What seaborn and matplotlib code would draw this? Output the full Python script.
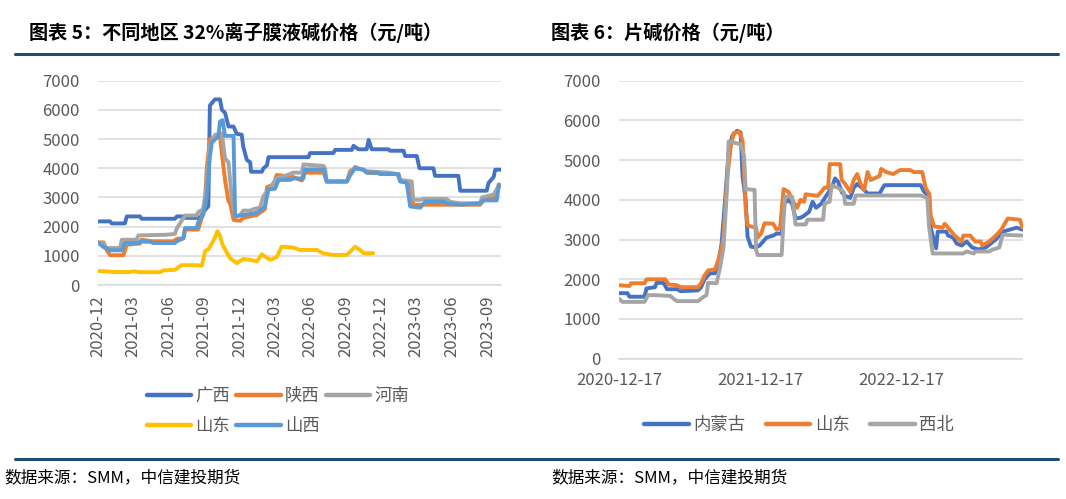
import matplotlib
matplotlib.use("Agg")
import matplotlib.pyplot as plt
import matplotlib.dates as mdates
from matplotlib.lines import Line2D
import pandas as pd
import seaborn as sns

# ---------------- 图表5: 32%离子膜液碱 (元/吨) ----------------
gx_date = ["2020-12-01", "2021-01-02", "2021-01-06", "2021-02-09", "2021-02-14", "2021-03-20", "2021-03-24",
           "2021-06-18", "2021-06-23", "2021-07-10", "2021-07-14", "2021-08-22", "2021-08-30", "2021-09-12",
           "2021-09-16", "2021-09-29", "2021-10-12", "2021-10-17", "2021-10-25", "2021-11-03", "2021-11-16",
           "2021-11-24", "2021-12-07", "2021-12-11", "2021-12-20", "2021-12-29", "2021-12-31", "2022-01-28",
           "2022-02-01", "2022-02-10", "2022-02-14", "2022-05-28", "2022-06-01", "2022-07-31", "2022-08-05",
           "2022-09-17", "2022-09-21", "2022-10-04", "2022-10-25", "2022-10-30", "2022-11-07", "2022-12-20",
           "2022-12-24", "2023-01-28", "2023-02-01", "2023-03-03", "2023-03-10", "2023-04-15", "2023-04-19",
           "2023-06-18", "2023-06-23", "2023-08-30", "2023-09-04", "2023-09-17", "2023-09-21", "2023-10-06"]
gx_price = [2180, 2180, 2110, 2110, 2350, 2350, 2270,
            2270, 2350, 2350, 2300, 2300, 2500, 2700,
            6150, 6360, 6360, 6000, 5900, 5430, 5430,
            5180, 5150, 4740, 4290, 4200, 3880, 3880,
            4000, 4100, 4380, 4380, 4520, 4520, 4630,
            4630, 4770, 4650, 4650, 4970, 4650, 4650,
            4600, 4600, 4420, 4420, 4000, 4000, 3740,
            3740, 3230, 3230, 3500, 3700, 3950, 3950]

sx_date = ["2020-12-01", "2020-12-16", "2020-12-24", "2021-01-02", "2021-02-05", "2021-02-14", "2021-03-20",
           "2021-03-24", "2021-04-20", "2021-06-14", "2021-06-23", "2021-07-10", "2021-07-14", "2021-08-17",
           "2021-08-26", "2021-09-04", "2021-09-08", "2021-09-16", "2021-10-12", "2021-10-17", "2021-10-25",
           "2021-11-03", "2021-11-07", "2021-11-16", "2021-12-03", "2021-12-11", "2022-01-15", "2022-02-05",
           "2022-02-10", "2022-02-27", "2022-03-07", "2022-04-19", "2022-05-11", "2022-05-15", "2022-07-06",
           "2022-07-14", "2022-09-04", "2022-09-12", "2022-09-25", "2022-10-17", "2022-10-25", "2023-01-15",
           "2023-01-19", "2023-02-14", "2023-02-22", "2023-08-13", "2023-08-22", "2023-09-25", "2023-09-30",
           "2023-10-06"]
sx_price = [1460, 1460, 1200, 1020, 1020, 1380, 1420,
            1550, 1500, 1500, 1580, 1600, 1900, 1900,
            2300, 3000, 4000, 5000, 5100, 4500, 3600,
            2860, 2800, 2230, 2200, 2300, 2400, 2600,
            3350, 3450, 3770, 3700, 3580, 3850, 3850,
            3550, 3550, 3900, 4000, 3950, 3850, 3800,
            3560, 3500, 2750, 2750, 2900, 3000, 3450,
            3400]

hn_date = ["2020-12-01", "2020-12-16", "2020-12-24", "2021-01-28", "2021-02-01", "2021-03-11", "2021-03-16",
           "2021-05-24", "2021-06-18", "2021-06-23", "2021-07-14", "2021-08-13", "2021-08-17", "2021-08-30",
           "2021-09-08", "2021-09-16", "2021-09-29", "2021-10-17", "2021-10-25", "2021-11-03", "2021-11-11",
           "2021-11-20", "2021-12-03", "2021-12-11", "2021-12-29", "2022-01-06", "2022-01-23", "2022-02-01",
           "2022-02-10", "2022-02-27", "2022-03-07", "2022-03-24", "2022-04-19", "2022-05-11", "2022-05-15",
           "2022-07-06", "2022-07-10", "2022-07-14", "2022-09-04", "2022-09-12", "2022-09-25", "2022-10-04",
           "2022-10-25", "2022-12-20", "2023-01-11", "2023-01-19", "2023-02-18", "2023-02-22", "2023-03-12",
           "2023-03-20", "2023-05-19", "2023-05-28", "2023-06-23", "2023-08-13", "2023-08-18", "2023-09-17",
           "2023-09-30", "2023-10-06"]
hn_price = [1460, 1400, 1270, 1270, 1550, 1550, 1700,
            1720, 1750, 1950, 2380, 2380, 2500, 2600,
            3500, 4800, 5140, 5200, 4340, 4200, 3000,
            2350, 2400, 2550, 2550, 2600, 2650, 3050,
            3200, 3500, 3650, 3720, 3850, 3850, 4130,
            4080, 3980, 3550, 3550, 3800, 4050, 4000,
            3900, 3850, 3800, 3600, 3550, 2920, 2920,
            2950, 2950, 2850, 2800, 2800, 3000, 3100,
            3400, 3400]

sd_date = ["2020-12-01", "2021-01-02", "2021-01-06", "2021-02-22", "2021-03-03", "2021-03-20", "2021-05-11",
           "2021-05-19", "2021-06-18", "2021-07-05", "2021-08-13", "2021-08-26", "2021-09-04", "2021-09-12",
           "2021-09-21", "2021-09-29", "2021-10-05", "2021-10-11", "2021-10-19", "2021-11-07", "2021-11-24",
           "2021-12-11", "2021-12-29", "2022-01-15", "2022-01-28", "2022-02-18", "2022-03-07", "2022-03-20",
           "2022-04-19", "2022-05-06", "2022-06-18", "2022-07-06", "2022-07-31", "2022-09-04", "2022-09-25",
           "2022-10-08", "2022-10-17", "2022-11-11"]
sd_price = [480, 460, 445, 445, 470, 440, 440,
            500, 520, 680, 680, 660, 1170, 1220,
            1420, 1620, 1840, 1720, 1370, 920, 750,
            890, 860, 810, 1050, 860, 950, 1310,
            1280, 1200, 1200, 1080, 1030, 1030, 1310,
            1200, 1090, 1090]

shx_date = ["2020-12-01", "2020-12-16", "2021-01-02", "2021-02-01", "2021-02-09", "2021-03-16", "2021-03-20",
            "2021-04-15", "2021-04-23", "2021-06-18", "2021-06-23", "2021-07-10", "2021-07-14", "2021-08-13",
            "2021-08-17", "2021-08-30", "2021-09-08", "2021-09-16", "2021-09-21", "2021-10-08", "2021-10-12",
            "2021-10-19", "2021-10-25", "2021-11-16", "2021-11-20", "2021-12-11", "2022-01-06", "2022-01-19",
            "2022-02-05", "2022-02-14", "2022-03-03", "2022-03-12", "2022-04-11", "2022-04-19", "2022-05-15",
            "2022-05-19", "2022-07-06", "2022-07-14", "2022-09-04", "2022-09-12", "2022-09-25", "2022-10-17",
            "2022-10-25", "2022-11-20", "2022-11-29", "2023-01-15", "2023-01-19", "2023-02-05", "2023-02-14",
            "2023-03-12", "2023-03-25", "2023-05-11", "2023-05-19", "2023-06-23", "2023-08-13", "2023-08-22",
            "2023-09-25", "2023-09-30", "2023-10-06"]
shx_price = [1460, 1300, 1190, 1190, 1440, 1440, 1490,
             1480, 1440, 1440, 1500, 1600, 1950, 1950,
             2150, 2400, 3000, 4400, 4880, 5100, 5600,
             5650, 5110, 5110, 2350, 2400, 2450, 2500,
             2700, 3280, 3300, 3600, 3600, 3650, 3650,
             3960, 3960, 3540, 3540, 3750, 4000, 3950,
             3850, 3850, 3800, 3800, 3550, 3500, 2690,
             2650, 2860, 2860, 2800, 2750, 2800, 2900,
             2900, 3400, 3380]

left_regions = ["广西", "陕西", "河南", "山东", "山西"]
left_colors = ["#4472C4", "#ED7D31", "#A5A5A5", "#FFC000", "#5B9BD5"]
left_ticks = pd.date_range("2020-12-01", "2023-09-01", freq="3MS")

# ---------------- 图表6: 片碱 (元/吨) ----------------
nmg_date = ["2020-12-17", "2021-01-08", "2021-01-13", "2021-02-21", "2021-02-26", "2021-03-20", "2021-03-24",
            "2021-04-11", "2021-04-20", "2021-05-16", "2021-05-25", "2021-07-09", "2021-07-17", "2021-07-26",
            "2021-08-09", "2021-08-22", "2021-08-31", "2021-09-08", "2021-09-17", "2021-09-26", "2021-10-05",
            "2021-10-18", "2021-10-27", "2021-11-01", "2021-11-09", "2021-11-14", "2021-11-23", "2021-12-06",
            "2021-12-15", "2021-12-24", "2022-01-02", "2022-01-19", "2022-01-28", "2022-02-10", "2022-02-15",
            "2022-02-28", "2022-03-09", "2022-03-18", "2022-03-31", "2022-04-09", "2022-04-22", "2022-05-01",
            "2022-05-10", "2022-05-23", "2022-06-05", "2022-06-19", "2022-06-28", "2022-07-06", "2022-07-15",
            "2022-07-24", "2022-08-06", "2022-08-15", "2022-08-24", "2022-09-06", "2022-09-20", "2022-10-21",
            "2022-10-29", "2022-11-03", "2023-02-04", "2023-02-13", "2023-02-26", "2023-03-02", "2023-03-16",
            "2023-03-20", "2023-04-11", "2023-04-16", "2023-04-29", "2023-05-08", "2023-05-21", "2023-06-03",
            "2023-06-17", "2023-07-04", "2023-07-22", "2023-08-04", "2023-08-17", "2023-09-04", "2023-09-22",
            "2023-10-10", "2023-10-25"]
nmg_price = [1650, 1650, 1560, 1560, 1770, 1800, 1910,
             1910, 1750, 1750, 1700, 1720, 1800, 2000,
             2150, 2150, 2450, 2900, 4000, 5200, 5600,
             5740, 5700, 4600, 4000, 3070, 2820, 2800,
             2850, 2950, 3050, 3100, 3150, 3150, 3900,
             4000, 3900, 3530, 3550, 3600, 3700, 3950,
             3800, 3900, 4100, 4300, 4540, 4450, 4200,
             4100, 4050, 4300, 4400, 4300, 4160, 4160,
             4300, 4370, 4370, 4200, 4100, 3300, 2780,
             3200, 3200, 3100, 3050, 2900, 2850, 2950,
             2800, 2750, 2800, 2900, 3000, 3200, 3250,
             3300, 3250]

sdp_date = ["2020-12-17", "2021-01-13", "2021-01-17", "2021-02-21", "2021-02-26", "2021-04-15", "2021-04-24",
            "2021-05-16", "2021-05-25", "2021-07-09", "2021-07-17", "2021-07-26", "2021-08-04", "2021-08-22",
            "2021-08-31", "2021-09-08", "2021-09-13", "2021-09-22", "2021-10-01", "2021-10-09", "2021-10-23",
            "2021-11-01", "2021-11-05", "2021-11-09", "2021-11-14", "2021-12-06", "2021-12-10", "2021-12-19",
            "2021-12-28", "2022-01-19", "2022-01-28", "2022-02-06", "2022-02-15", "2022-02-28", "2022-03-09",
            "2022-03-22", "2022-03-31", "2022-04-09", "2022-04-13", "2022-05-14", "2022-05-23", "2022-06-01",
            "2022-06-10", "2022-06-14", "2022-07-11", "2022-07-15", "2022-07-24", "2022-08-06", "2022-08-15",
            "2022-08-24", "2022-09-02", "2022-09-11", "2022-09-20", "2022-09-28", "2022-10-21", "2022-10-25",
            "2022-11-07", "2022-11-25", "2022-12-04", "2022-12-13", "2023-01-08", "2023-01-17", "2023-02-08",
            "2023-02-17", "2023-02-26", "2023-03-02", "2023-03-11", "2023-04-02", "2023-04-07", "2023-04-20",
            "2023-05-03", "2023-05-21", "2023-05-25", "2023-06-12", "2023-06-25", "2023-07-09", "2023-07-13",
            "2023-07-31", "2023-08-17", "2023-08-31", "2023-09-17", "2023-10-18", "2023-10-25"]
sdp_price = [1850, 1830, 1900, 1900, 2000, 2000, 1870,
             1850, 1800, 1800, 1900, 2100, 2220, 2250,
             2500, 2800, 3100, 4500, 5300, 5680, 5720,
             5500, 4700, 3800, 3350, 3300, 3050, 3150,
             3410, 3400, 3250, 3300, 4270, 4200, 4000,
             3800, 4000, 3950, 4140, 4100, 4200, 4310,
             4300, 4900, 4900, 4500, 4400, 4200, 4500,
             4650, 4400, 4250, 4700, 4500, 4600, 4780,
             4700, 4650, 4700, 4750, 4750, 4700, 4700,
             4300, 4150, 3600, 3330, 3300, 3400, 3250,
             3100, 2950, 3100, 3100, 2950, 2950, 2850,
             2950, 3100, 3250, 3530, 3500, 3300]

xb_date = ["2020-12-17", "2020-12-26", "2021-02-21", "2021-03-02", "2021-03-20", "2021-04-29", "2021-05-08",
           "2021-05-16", "2021-07-09", "2021-07-22", "2021-07-31", "2021-08-04", "2021-08-26", "2021-09-04",
           "2021-09-13", "2021-09-22", "2021-09-26", "2021-10-27", "2021-11-05", "2021-11-09", "2021-12-02",
           "2021-12-06", "2021-12-10", "2022-02-10", "2022-02-15", "2022-02-19", "2022-03-09", "2022-03-18",
           "2022-04-13", "2022-04-18", "2022-05-28", "2022-06-01", "2022-06-14", "2022-06-19", "2022-07-06",
           "2022-07-20", "2022-07-24", "2022-08-15", "2022-08-20", "2023-02-04", "2023-02-21", "2023-02-26",
           "2023-03-07", "2023-05-25", "2023-06-03", "2023-06-21", "2023-06-25", "2023-07-31", "2023-08-09",
           "2023-08-26", "2023-09-04", "2023-10-25"]
xb_price = [1510, 1430, 1430, 1600, 1600, 1580, 1500,
            1450, 1450, 1550, 1600, 1910, 1900, 2300,
            2800, 4300, 5470, 5400, 5100, 4270, 4250,
            2750, 2610, 2610, 3500, 4080, 4080, 3380,
            3380, 3500, 3500, 3910, 3950, 4370, 4300,
            4200, 3900, 3900, 4110, 4110, 4050, 3300,
            2650, 2650, 2700, 2650, 2700, 2700, 2750,
            2800, 3120, 3100]

right_regions = ["内蒙古", "山东", "西北"]
right_colors = ["#4472C4", "#ED7D31", "#A5A5A5"]
right_ticks = ["2020-12-17", "2021-12-17", "2022-12-17"]


def build(names, dates, prices):
    parts = []
    for n, d, p in zip(names, dates, prices):
        parts.append(pd.DataFrame({"date": pd.to_datetime(d), "price": p, "region": n}))
    return pd.concat(parts, ignore_index=True)


df_left = build(left_regions, [gx_date, sx_date, hn_date, sd_date, shx_date],
                [gx_price, sx_price, hn_price, sd_price, shx_price])
df_right = build(right_regions, [nmg_date, sdp_date, xb_date], [nmg_price, sdp_price, xb_price])

sns.set_theme(style="white")
plt.rcParams["font.family"] = ["Noto Sans CJK SC", "DejaVu Sans"]

GRID = "#D9D9D9"
TXT = "#595959"
NAVY = "#1A4F7A"
W, H = 1066, 499

fig = plt.figure(figsize=(10.66, 4.99), dpi=100)
ax1 = fig.add_axes([97.7 / W, (H - 285) / H, 403.3 / W, 204.3 / H])
ax2 = fig.add_axes([619 / W, (H - 358.7) / H, 403.5 / W, 278 / H])


def style(ax):
    ax.set_ylim(0, 7000)
    ax.set_yticks(range(0, 7001, 1000))
    ax.yaxis.grid(True, color=GRID, lw=1.1)
    ax.xaxis.grid(False)
    for s in ["top", "right", "left"]:
        ax.spines[s].set_visible(False)
    ax.spines["bottom"].set_color(GRID)
    ax.spines["bottom"].set_linewidth(1.1)
    ax.tick_params(axis="y", length=0, pad=13, labelsize=12, labelcolor=TXT)
    ax.tick_params(axis="x", direction="out", length=3.6, width=1.1, color=GRID,
                   labelsize=12, labelcolor=TXT)
    ax.set_xlabel("")
    ax.set_ylabel("")
    ax.set_axisbelow(True)


sns.lineplot(data=df_left, x="date", y="price", hue="region", hue_order=left_regions,
             palette=left_colors, estimator=None, linewidth=2.8, ax=ax1)
ax1.set_xlim(pd.Timestamp("2020-12-01"), pd.Timestamp("2023-10-06"))
style(ax1)
ax1.set_xticks(left_ticks)
ax1.xaxis.set_major_formatter(mdates.DateFormatter("%Y-%m"))
ax1.tick_params(axis="x", labelrotation=90, pad=4)

sns.lineplot(data=df_right, x="date", y="price", hue="region", hue_order=right_regions,
             palette=right_colors, estimator=None, linewidth=2.8, ax=ax2)
ax2.set_xlim(pd.Timestamp("2020-12-17"), pd.Timestamp("2023-10-25"))
style(ax2)
ax2.set_xticks(pd.to_datetime(right_ticks))
ax2.xaxis.set_major_formatter(mdates.DateFormatter("%Y-%m-%d"))
ax2.tick_params(axis="x", pad=6)

for ln in ax1.lines + ax2.lines:
    ln.set_solid_capstyle("round")
    ln.set_solid_joinstyle("round")

# legends
h, l = ax1.get_legend_handles_labels()
ax1.get_legend().remove()
lut = dict(zip(l, h))
order = ["广西", "山东", "陕西", "山西", "河南"]
leg1 = ax1.legend([lut[k] for k in order], order, loc="center",
                  bbox_to_anchor=(278 / W, 1 - 411 / H), bbox_transform=fig.transFigure,
                  ncol=3, frameon=False, fontsize=12.5, handlelength=2.56, handletextpad=0.25,
                  columnspacing=0.35, labelspacing=0.65, labelcolor=TXT)

h, l = ax2.get_legend_handles_labels()
ax2.get_legend().remove()
leg2 = ax2.legend(h, l, loc="center", bbox_to_anchor=(799 / W, 1 - 425 / H),
                  bbox_transform=fig.transFigure, ncol=3, frameon=False, fontsize=12.5,
                  handlelength=2.56, handletextpad=0.25, columnspacing=1.2, labelcolor=TXT)
for lg in (leg1, leg2):
    for ln in lg.get_lines():
        ln.set_linewidth(3.2)
        ln.set_solid_capstyle("round")

# titles, rules, sources
fig.text(29 / W, 1 - 32.5 / H, "图表 5：不同地区 32%离子膜液碱价格（元/吨）", fontsize=13.8,
         fontweight="bold", color="black", ha="left", va="center")
fig.text(551 / W, 1 - 32.5 / H, "图表 6：片碱价格（元/吨）", fontsize=13.8,
         fontweight="bold", color="black", ha="left", va="center")
for yy in (54, 459):
    fig.add_artist(Line2D([15 / W, 1058 / W], [1 - yy / H, 1 - yy / H], transform=fig.transFigure,
                          color=NAVY, lw=2.2))
fig.text(4 / W, 1 - 478 / H, "数据来源：SMM，中信建投期货", fontsize=12, fontstyle="italic",
         color="black", ha="left", va="center")
fig.text(551 / W, 1 - 478 / H, "数据来源：SMM，中信建投期货", fontsize=12, fontstyle="italic",
         color="black", ha="left", va="center")

fig.savefig("out.png", dpi=100)
